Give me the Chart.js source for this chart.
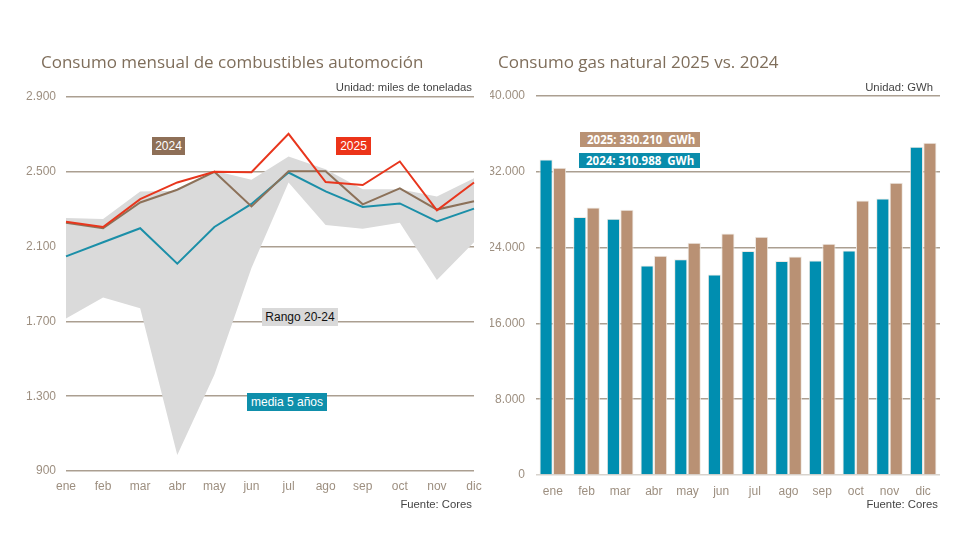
<!DOCTYPE html>
<html>
<head>
<meta charset="utf-8">
<script src="https://cdn.jsdelivr.net/npm/chart.js@4/dist/chart.umd.min.js"></script>
<style>
  body { margin: 0; width: 980px; height: 560px; background: #fff; position: relative; overflow: hidden; font-family: "Liberation Sans", Arial, sans-serif; }
  .wrap { position: absolute; top: 0; width: 490px; height: 560px; }
  .title { position: absolute; font-family: "Open Sans", "Noto Sans", sans-serif; font-weight: 500; font-size: 17px; color: #7f6e5b; white-space: nowrap; }
  .note { position: absolute; font-size: 11.3px; color: #444; white-space: nowrap; }
  .tag { position: absolute; font-size: 12px; line-height: 18px; height: 18px; text-align: center; white-space: nowrap; }
  .tagb { position: absolute; font-family: "Open Sans", "DejaVu Sans", sans-serif; font-weight: bold; font-size: 11.5px; line-height: 15px; height: 15px; color: #fff; padding-left: 7px; white-space: nowrap; }
</style>
</head>
<body>
<div class="wrap" style="left:0"><canvas id="fuel"></canvas></div>
<div class="wrap" style="left:490px"><canvas id="gas"></canvas></div>

<div class="title" style="left:41px; top:50px">Consumo mensual de combustibles automoción</div>
<div class="title" style="left:498px; top:50px">Consumo gas natural 2025 vs. 2024</div>
<div class="note" style="right:508px; top:81px">Unidad: miles de toneladas</div>
<div class="note" style="right:47px; top:81px">Unidad: GWh</div>
<div class="note" style="right:508px; top:498px">Fuente: Cores</div>
<div class="note" style="right:42px; top:498px">Fuente: Cores</div>

<div class="tag" style="left:152px; top:137px; width:33px; background:#8e6f57; color:#fff">2024</div>
<div class="tag" style="left:336px; top:137px; width:35px; background:#ec3419; color:#fff">2025</div>
<div class="tag" style="left:262px; top:308px; width:76px; background:#d9d9d9; color:#111">Rango 20-24</div>
<div class="tag" style="left:247px; top:393px; width:80px; background:#0f8fab; color:#fff">media 5 años</div>

<div class="tagb" style="left:580px; top:132px; width:113px; background:#b99274">2025: 330.210&nbsp; GWh</div>
<div class="tagb" style="left:579px; top:153px; width:114px; background:#0a8cab">2024: 310.988&nbsp; GWh</div>

<script>
const months = ['ene', 'feb', 'mar', 'abr', 'may', 'jun', 'jul', 'ago', 'sep', 'oct', 'nov', 'dic'];

// combustibles automoción (miles de toneladas)
const fuel2025 = [2233, 2205, 2354, 2443, 2500, 2498, 2703, 2445, 2429, 2555, 2294, 2443];
const fuel2024 = [2228, 2198, 2336, 2404, 2500, 2315, 2503, 2503, 2326, 2411, 2298, 2342];
const fuelMedia = [2048, 2123, 2198, 2009, 2205, 2328, 2496, 2395, 2312, 2331, 2235, 2303];
const rangoMax = [2253, 2248, 2395, 2399, 2505, 2457, 2582, 2514, 2407, 2407, 2368, 2466];
const rangoMin = [1716, 1828, 1770, 985, 1415, 1985, 2443, 2216, 2195, 2227, 1922, 2123];

// gas natural (GWh)
const gas2024 = [33300, 27220, 27040, 22120, 22760, 21170, 23630, 22580, 22650, 23700, 29190, 34640];
const gas2025 = [32420, 28240, 27990, 23140, 24510, 25500, 25140, 23070, 24400, 28980, 30840, 35060];

const tickColor = '#9d8f80';
const gridColor = '#ab9f91';

function fmt(v) {
    return String(v).replace(/\B(?=(\d{3})+(?!\d))/g, '.');
}

Chart.defaults.font.family = '"Liberation Sans", Arial, sans-serif';
Chart.defaults.font.size = 12;
Chart.defaults.color = tickColor;
Chart.defaults.animation = false;

// dataset 0 is drawn on top, so the grey band goes last
new Chart(document.getElementById('fuel'), {
    type: 'line',
    data: {
        labels: months,
        datasets: [
            { label: '2025', data: fuel2025, borderColor: '#e8361d', borderWidth: 2, pointRadius: 0, tension: 0 },
            { label: '2024', data: fuel2024, borderColor: '#8c7159', borderWidth: 2, pointRadius: 0, tension: 0 },
            { label: 'media 5 años', data: fuelMedia, borderColor: '#1b8fa8', borderWidth: 2, pointRadius: 0, tension: 0 },
            { label: 'min', data: rangoMin, borderWidth: 0, pointRadius: 0, fill: false },
            { label: 'Rango 20-24', data: rangoMax, borderWidth: 0, pointRadius: 0, backgroundColor: '#dadada', fill: '-1' }
        ]
    },
    options: {
        responsive: true,
        maintainAspectRatio: false,
        layout: { padding: { top: 97, left: 0, right: 16, bottom: 59 } },
        plugins: { legend: { display: false }, tooltip: { enabled: false } },
        scales: {
            x: {
                grid: { display: false },
                border: { display: false },
                ticks: { padding: 0, color: tickColor },
                afterFit: s => { s.height = 30; }
            },
            y: {
                min: 900,
                max: 2900,
                grid: { color: gridColor, lineWidth: 1.5, drawTicks: false },
                border: { display: false },
                ticks: { stepSize: 400, padding: 10, color: tickColor, callback: v => fmt(v) },
                afterFit: s => { s.width = 66; }
            }
        }
    }
});

new Chart(document.getElementById('gas'), {
    type: 'bar',
    data: {
        labels: months,
        datasets: [
            { label: '2024', data: gas2024, backgroundColor: '#008eb0', borderColor: '#eee9e3', borderWidth: 1, borderSkipped: 'bottom' },
            { label: '2025', data: gas2025, backgroundColor: '#b99174', borderColor: '#eee9e3', borderWidth: 1, borderSkipped: 'bottom' }
        ]
    },
    options: {
        responsive: true,
        maintainAspectRatio: false,
        layout: { padding: { top: 96, left: 0, right: 40, bottom: 55 } },
        plugins: { legend: { display: false }, tooltip: { enabled: false } },
        datasets: { bar: { categoryPercentage: 0.8, barPercentage: 0.98 } },
        scales: {
            x: {
                grid: { display: false },
                border: { display: false },
                ticks: { padding: 1, color: tickColor },
                afterFit: s => { s.height = 30; }
            },
            y: {
                min: 0,
                max: 40000,
                grid: { color: ctx => ctx.tick.value === 0 ? '#d8d3cd' : gridColor, lineWidth: 1.5, drawTicks: false },
                border: { display: false },
                ticks: { stepSize: 8000, padding: 11, color: tickColor, callback: v => fmt(v) },
                afterFit: s => { s.width = 46; }
            }
        }
    }
});
</script>
</body>
</html>
